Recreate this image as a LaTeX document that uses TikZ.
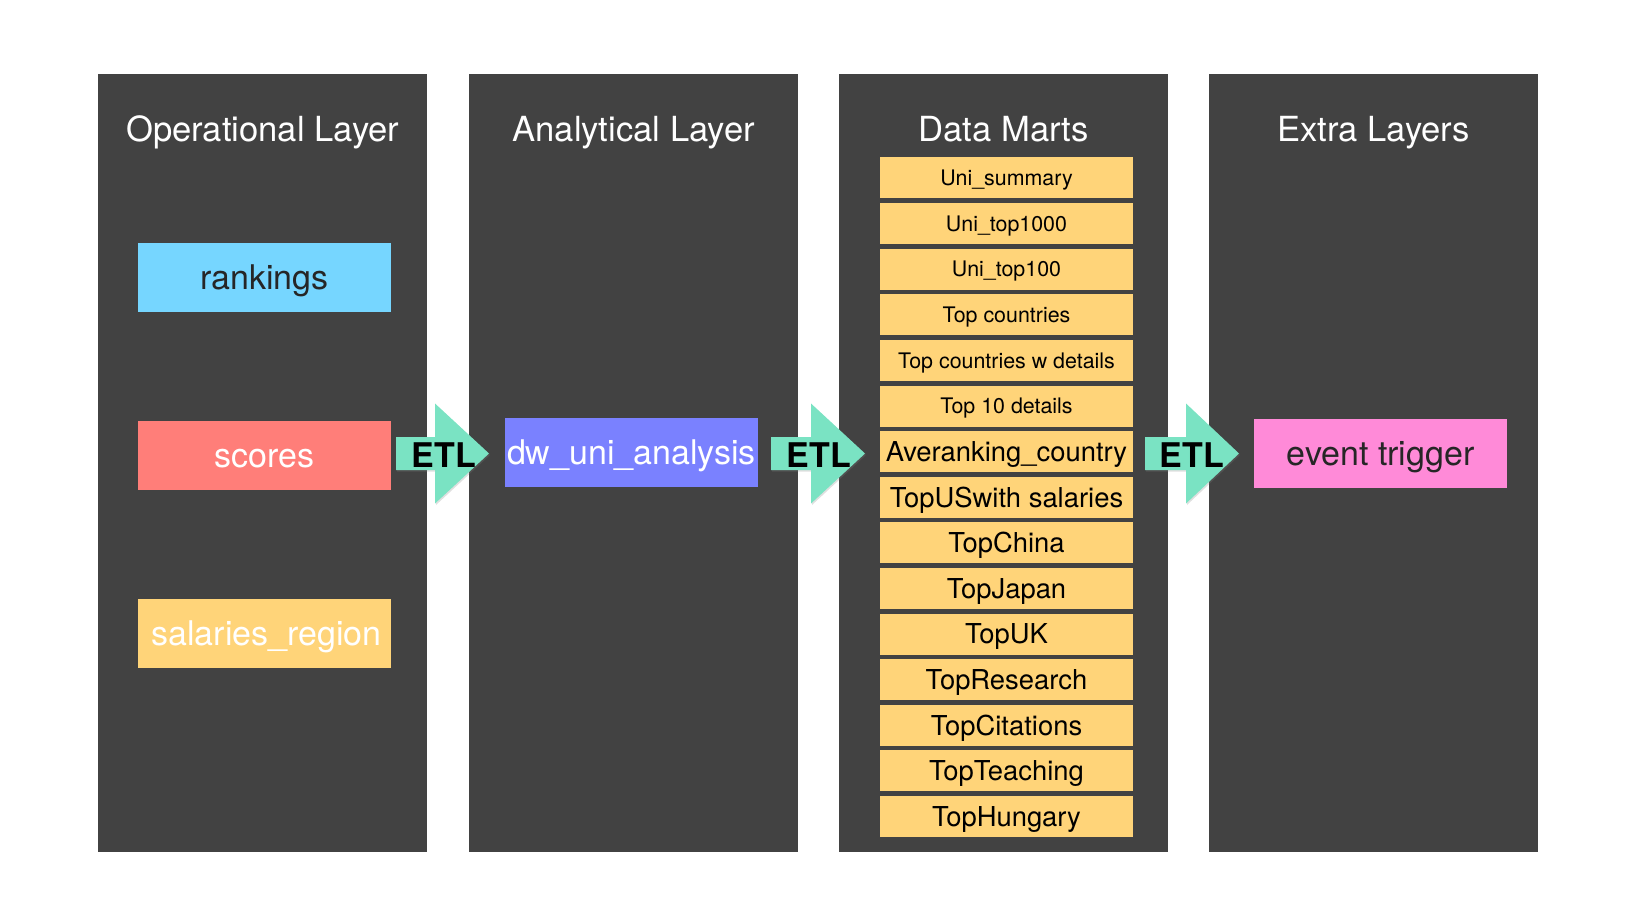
\documentclass[tikz,border=0pt]{standalone}
\usepackage{fontspec}
\setmainfont{TeX Gyre Heros}
\usetikzlibrary{positioning,shadows}
\definecolor{layerbg}{HTML}{424242}
\definecolor{sky}{HTML}{76D6FF}
\definecolor{salmon}{HTML}{FF7E79}
\definecolor{cantaloupe}{HTML}{FFD479}
\definecolor{orchid}{HTML}{7A81FF}
\definecolor{carnation}{HTML}{FF8AD8}
\definecolor{spindrift}{HTML}{7AE3C3}
\definecolor{inkdark}{HTML}{262626}
\tikzset{
  layer/.style={fill=layerbg,minimum width=329pt,minimum height=778pt,inner sep=0pt,anchor=north west},
  layertitle/.style={text=white,font=\fontsize{34.6}{40}\selectfont,inner sep=0pt},
  tablebox/.style={minimum width=253pt,minimum height=69pt,inner sep=0pt,font=\fontsize{34}{40}\selectfont,text height=24.5pt,text depth=0pt},
  mart/.style={fill=cantaloupe,minimum width=253pt,minimum height=41pt,inner sep=0pt,text=black},
  martsmall/.style={font=\fontsize{21.4}{24}\selectfont,text height=15.4pt,text depth=0pt},
  martlarge/.style={font=\fontsize{27.4}{30}\selectfont,text height=19.7pt,text depth=0pt},
  etl/.style={fill=spindrift,drop shadow={opacity=.25,shadow xshift=1pt,shadow yshift=-1.5pt}},
  etllabel/.style={font=\bfseries\fontsize{34}{36}\selectfont,text height=24.4pt,text depth=0pt,inner sep=0pt}
}

\begin{document}
\begin{tikzpicture}[x=1pt,y=-1pt]
    \useasboundingbox (0,0) rectangle (1634,904);

    \node[layer] (oplayer) at (98,74) {};
    \node[layer] (anlayer) at (469,74) {};
    \node[layer] (martlayer) at (839,74) {};
    \node[layer] (extralayer) at (1209,74) {};

    \node[layertitle,below=67.5pt of oplayer.north,anchor=base] (optitle) {Operational Layer};
    \node[layertitle,below=67.5pt of anlayer.north,anchor=base] (antitle) {Analytical Layer};
    \node[layertitle,below=67.5pt of martlayer.north,anchor=base] (marttitle) {Data Marts};
    \node[layertitle,below=67.5pt of extralayer.north,anchor=base] (extratitle) {Extra Layers};

    \node[tablebox,fill=sky,text=inkdark] (rankings) at (264.5,277.5) {rankings};
    \node[tablebox,fill=salmon,text=white,below=108.5pt of rankings] (scores) {scores};
    \node[tablebox,fill=cantaloupe,text=white,below=108.5pt of scores] (salaries) {\hspace*{4pt}salaries\_region};

    \node[tablebox,fill=orchid,text=white] (dwuni) at (631.5,452.5) {dw\_uni\_analysis};

    \matrix[row sep=4.42pt,inner sep=0pt,anchor=north] (marts) at (1006.5,157)
    {
      \node[mart,martsmall] (summary) {Uni\_summary}; \\
      \node[mart,martsmall] (top1000) {Uni\_top1000}; \\
      \node[mart,martsmall] (top100) {Uni\_top100}; \\
      \node[mart,martsmall] (countries) {Top countries}; \\
      \node[mart,martsmall] (countriesdet) {Top countries w details}; \\
      \node[mart,martsmall] (topten) {Top 10 details}; \\
      \node[mart,martlarge] (averanking) {Averanking\_country}; \\
      \node[mart,martlarge] (topus) {TopUSwith salaries}; \\
      \node[mart,martlarge] (topchina) {TopChina}; \\
      \node[mart,martlarge] (topjapan) {TopJapan}; \\
      \node[mart,martlarge] (topuk) {TopUK}; \\
      \node[mart,martlarge] (topresearch) {TopResearch}; \\
      \node[mart,martlarge] (topcitations) {TopCitations}; \\
      \node[mart,martlarge] (topteaching) {TopTeaching}; \\
      \node[mart,martlarge] (tophungary) {TopHungary}; \\
    };

    \node[tablebox,fill=carnation,text=inkdark] (trigger) at (1380.5,453.5) {event trigger};

    \fill[etl] (396,437) -- (435,437) -- (435,403.5) -- (489,453.5) -- (435,503.5) -- (435,470) -- (396,470) -- cycle;
    \fill[etl] (771,437) -- (811,437) -- (811,403.5) -- (865,453.5) -- (811,503.5) -- (811,470) -- (771,470) -- cycle;
    \fill[etl] (1145,437) -- (1186,437) -- (1186,403.5) -- (1239,453.5) -- (1186,503.5) -- (1186,470) -- (1145,470) -- cycle;
    \node[etllabel] (etlone) at (444,455) {ETL};
    \node[etllabel] (etltwo) at (819,455) {ETL};
    \node[etllabel] (etlthree) at (1192,455.5) {ETL};
\end{tikzpicture}
\end{document}
